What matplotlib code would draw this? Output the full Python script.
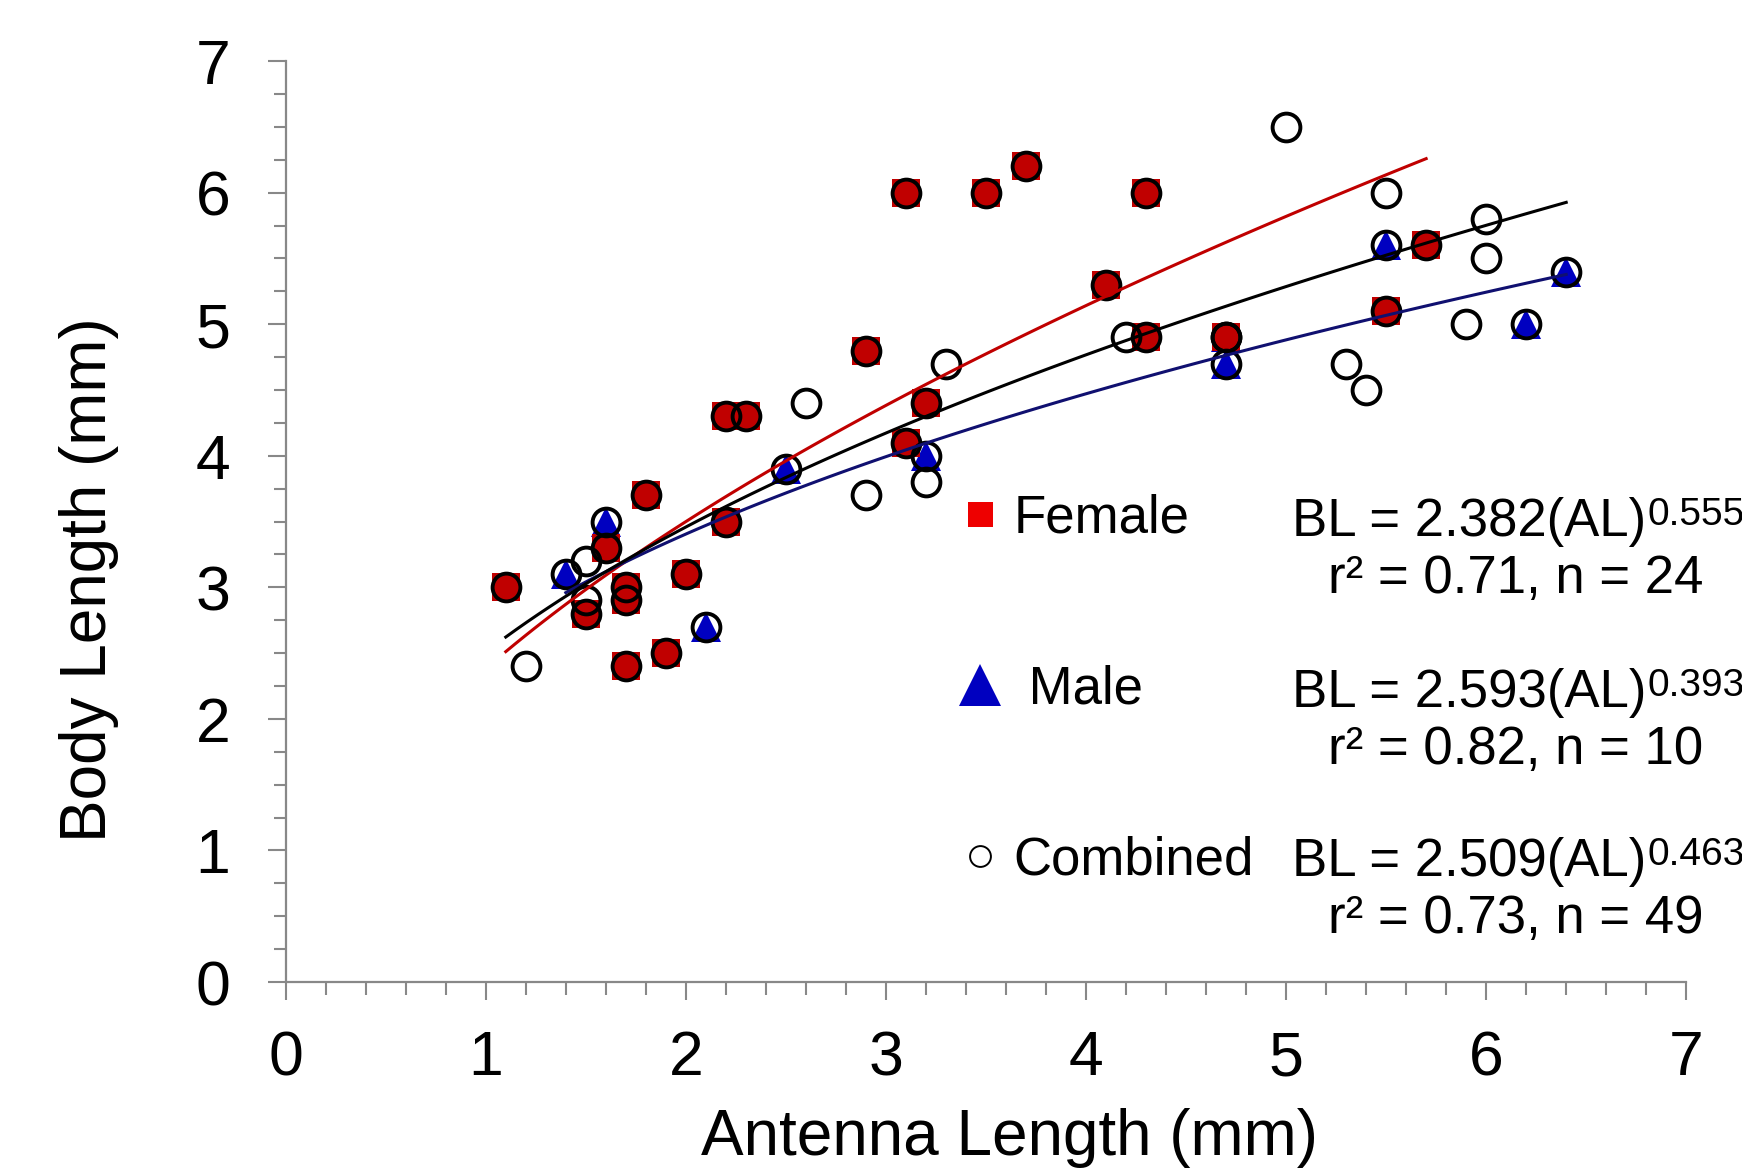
import numpy as np
import matplotlib
matplotlib.use("Agg")
import matplotlib.pyplot as plt
from matplotlib.lines import Line2D
from matplotlib.ticker import MultipleLocator

plt.rcParams['font.family'] = ['Liberation Sans', 'DejaVu Sans']

# female points (antenna length, body length)
female_al = [1.1, 1.5, 1.6, 1.7, 1.7, 1.7, 1.8, 1.9, 2.0, 2.2, 2.3, 2.2,
             2.9, 3.1, 3.1, 3.2, 3.5, 3.7, 4.1, 4.3, 4.3, 4.7, 5.5, 5.7]
female_bl = [3.0, 2.8, 3.3, 3.0, 2.9, 2.4, 3.7, 2.5, 3.1, 4.3, 4.3, 3.5,
             4.8, 6.0, 4.1, 4.4, 6.0, 6.2, 5.3, 6.0, 4.9, 4.9, 5.1, 5.6]

# male points
male_al = [1.4, 1.6, 2.1, 2.5, 3.2, 4.7, 4.7, 5.5, 6.2, 6.4]
male_bl = [3.1, 3.5, 2.7, 3.9, 4.0, 4.7, 4.9, 5.6, 5.0, 5.4]

# unsexed specimens (only in the combined set)
other_al = [1.2, 1.5, 1.5, 2.6, 2.9, 3.2, 3.3, 4.2, 5.0, 5.5, 6.0, 6.0, 5.9, 5.3, 5.4]
other_bl = [2.4, 3.2, 2.9, 4.4, 3.7, 3.8, 4.7, 4.9, 6.5, 6.0, 5.8, 5.5, 5.0, 4.7, 4.5]

combined_al = female_al + male_al + other_al
combined_bl = female_bl + male_bl + other_bl

# power fits BL = a * AL^b
fit_names = ["Female", "Male", "Combined"]
fit_a = [2.382, 2.593, 2.509]
fit_b = [0.555, 0.393, 0.463]
fit_r2 = [0.71, 0.82, 0.73]
fit_n = [24, 10, 49]

red = "#C00000"
blue = "#0000C0"

fig = plt.figure(figsize=(17.42, 11.74), dpi=100)
ax = fig.add_axes([0.164, 0.1635, 0.804, 0.7845])

ax.plot(male_al, male_bl, linestyle="none", marker="^", markersize=22,
        color=blue, markeredgewidth=0, zorder=2)
ax.plot(female_al, female_bl, linestyle="none", marker="s", markersize=20,
        color=red, markeredgewidth=0, zorder=3)
ax.plot(combined_al, combined_bl, linestyle="none", marker="o", markersize=20,
        markerfacecolor="none", markeredgecolor="black", markeredgewidth=2.8, zorder=4)

# trend lines
xs = np.linspace(min(female_al), max(female_al), 100)
ax.plot(xs, fit_a[0] * xs ** fit_b[0], color=red, lw=2.2, zorder=5)
xs = np.linspace(min(male_al), max(male_al), 100)
ax.plot(xs, fit_a[1] * xs ** fit_b[1], color="#101070", lw=2.2, zorder=5)
xs = np.linspace(min(combined_al), max(combined_al), 100)
ax.plot(xs, fit_a[2] * xs ** fit_b[2], color="black", lw=2.2, zorder=5)

ax.set_xlim(0, 7)
ax.set_ylim(0, 7)
ax.xaxis.set_major_locator(MultipleLocator(1))
ax.xaxis.set_minor_locator(MultipleLocator(0.2))
ax.yaxis.set_major_locator(MultipleLocator(1))
ax.yaxis.set_minor_locator(MultipleLocator(0.25))

for side in ["top", "right"]:
    ax.spines[side].set_visible(False)
for side in ["left", "bottom"]:
    ax.spines[side].set_color("#888888")
    ax.spines[side].set_linewidth(1.6)

ax.tick_params(which="both", direction="out", color="#888888", width=1.5)
ax.tick_params(which="major", length=13, labelsize=45)
ax.tick_params(which="minor", length=9)
ax.tick_params(axis="x", which="major", pad=21)
ax.tick_params(axis="y", which="major", pad=27)

ax.set_xlabel("Antenna Length (mm)", fontsize=46)
ax.set_ylabel("Body Length (mm)", fontsize=46)
ax.xaxis.set_label_coords(0.517, -0.137)
ax.yaxis.set_label_coords(-0.119, 0.4365)

# legend keys
handles = [
    Line2D([], [], linestyle="none", marker="s", markersize=18, color="#EE0000", markeredgewidth=0),
    Line2D([], [], linestyle="none", marker="^", markersize=30, color=blue, markeredgewidth=0),
    Line2D([], [], linestyle="none", marker="o", markersize=15, markerfacecolor="none",
           markeredgecolor="black", markeredgewidth=1.4),
]
labels = ["Female", " Male", "Combined"]
fig.legend(handles, labels, loc="upper left", bbox_to_anchor=(0.5476, 0.580),
           frameon=False, fontsize=38, handlelength=1.0, handletextpad=0.13,
           labelspacing=2.3, borderpad=0, borderaxespad=0)

# equations
eq_x = 5.03
r_x = 5.21
eq_y = [3.50, 2.20, 0.91]
r_y = [3.06, 1.76, 0.48]
for i in range(3):
    t = ax.text(eq_x, eq_y[i], "BL = {:.3f}(AL)".format(fit_a[i]), fontsize=38,
                ha="left", va="center")
    ax.annotate("{:.3f}".format(fit_b[i]), xy=(1, 1), xycoords=t,
                xytext=(1, 0), textcoords="offset points",
                fontsize=28, ha="left", va="top")
    ax.text(r_x, r_y[i], "r\u00b2 = {:.2f}, n = {}".format(fit_r2[i], fit_n[i]),
            fontsize=38, ha="left", va="center")

fig.savefig("out.png", dpi=100)
